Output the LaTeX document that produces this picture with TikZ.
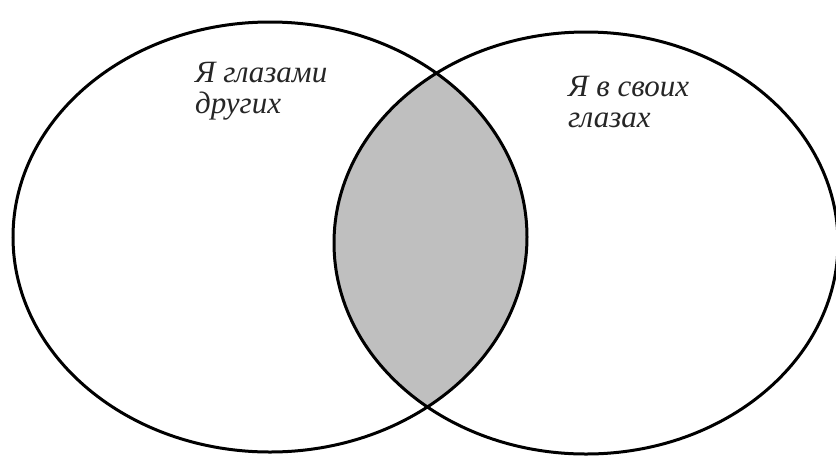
\documentclass[tikz,border=0pt]{standalone}
\usepackage{fontspec}
\setmainfont{Liberation Serif}
\begin{document}
\begin{tikzpicture}[x=1pt,y=-1pt,
  venn/.style={line width=3pt,draw=black},
  lbl/.style={anchor=base west,align=left,inner sep=0pt,
    font=\fontsize{31}{31}\selectfont\itshape,text=black!85}]
\useasboundingbox (0,0) rectangle (836,459);
\fill[white] (0,0) rectangle (836,459);
\begin{scope}
  \clip (270,237) ellipse [x radius=257, y radius=215];
  \fill[black!25] (586,243) ellipse [x radius=252, y radius=211];
\end{scope}
\draw[venn] (270,237) ellipse [x radius=257, y radius=215];
\draw[venn] (586,243) ellipse [x radius=252, y radius=211];
\node[lbl] (others) at (195,113) {Я глазами\\других};
\node[lbl] (self) at (568,127) {Я в своих\\глазах};
\end{tikzpicture}
\end{document}
